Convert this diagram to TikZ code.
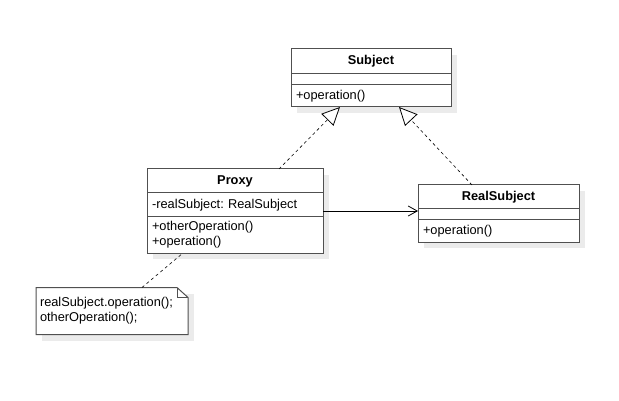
\documentclass[tikz,border=0pt]{standalone}
\usepackage{fontspec}
\setmainfont{Liberation Sans}
\usepackage{tikz}
\usetikzlibrary{arrows.meta, calc, positioning, backgrounds}
\frenchspacing

\definecolor{boxline}{HTML}{505050}
\definecolor{shadowgray}{HTML}{EBEBEB}

\tikzset{
  classbox/.style={draw=boxline, line width=1pt, fill=white, inner sep=0pt, outer sep=0pt,
    font=\fontsize{12.8}{15}\selectfont},
  classname/.style={classbox, font=\fontsize{12.8}{15}\selectfont\bfseries, align=center},
  compartment/.style={classbox, inner xsep=5pt, align=left},
  realize/.style={draw=black, line width=0.6pt, dash pattern=on 3pt off 3pt,
    -{Triangle[open, length=18pt, width=17pt, fill=white, line width=0.8pt]}},
  assoc/.style={draw=black, line width=0.8pt, -{Straight Barb[length=9pt, width=10pt, line width=0.8pt]}},
  anchorline/.style={draw=black, line width=0.6pt, dash pattern=on 3pt off 3pt},
}

\begin{document}
\begin{tikzpicture}[x=1pt, y=-1pt]
\useasboundingbox (0,0) rectangle (619,401);

% Subject
\node[classname, minimum width=160pt, minimum height=25pt] (subject) at (371,61.5) {Subject};
\node[compartment, text width=150pt, minimum height=11pt, below=0pt of subject] (subjectattr) {};
\node[compartment, text width=150pt, minimum height=22pt, below=0pt of subjectattr] (subjectops) {+operation()};

% Proxy
\node[classname, minimum width=176pt, minimum height=24pt] (proxy) at (235,181) {Proxy};
\node[compartment, text width=166pt, minimum height=24pt, below=0pt of proxy] (proxyattr) {-realSubject: RealSubject};
\node[compartment, text width=166pt, minimum height=36pt, below=0pt of proxyattr] (proxyops) {+otherOperation()\\+operation()};

% RealSubject
\node[classname, minimum width=161pt, minimum height=24pt] (realsubject) at (498.5,197) {RealSubject};
\node[compartment, text width=151pt, minimum height=11pt, below=0pt of realsubject] (realattr) {};
\node[compartment, text width=151pt, minimum height=22pt, below=0pt of realattr] (realops) {+operation()};

% Note
\node[inner xsep=4pt, inner ysep=0pt, outer sep=0pt, text width=144pt, minimum height=47pt, align=left,
  font=\fontsize{12.8}{15}\selectfont] (note) at (112,311) {realSubject.operation();\\otherOperation();};

% Shadows and note outline
\begin{scope}[on background layer]
\fill[shadowgray] ($(subject.north west)+(6,6)$) rectangle ($(subjectops.south east)+(6,6)$);
\fill[shadowgray] ($(proxy.north west)+(6,6)$) rectangle ($(proxyops.south east)+(6,6)$);
\fill[shadowgray] ($(realsubject.north west)+(6,6)$) rectangle ($(realops.south east)+(6,6)$);
\fill[shadowgray] ($(note.north west)+(6,6)$) rectangle ($(note.south east)+(6,6)$);
\draw[boxline, line width=1pt, fill=white] (note.north west) -- ([xshift=-11pt]note.north east)
  -- ([yshift=-10pt]note.north east) -- (note.south east) -- (note.south west) -- cycle;
\draw[boxline, line width=1pt] ([xshift=-11pt]note.north east) -- ([xshift=-11pt, yshift=-10pt]note.north east)
  -- ([yshift=-10pt]note.north east);
\end{scope}

% Realizations
\draw[realize] ([xshift=44pt]proxy.north) -- ([xshift=-31pt]subjectops.south);
\draw[realize] ([xshift=-26.5pt]realsubject.north) -- ([xshift=28pt]subjectops.south);

% Association
\draw[assoc] ([yshift=-6pt]proxyattr.east) -- ([yshift=-6pt]proxyattr.east -| realattr.west);

% Note link
\draw[anchorline] ([xshift=30pt]note.north) -- ([xshift=-52pt]proxyops.south);

\end{tikzpicture}
\end{document}
